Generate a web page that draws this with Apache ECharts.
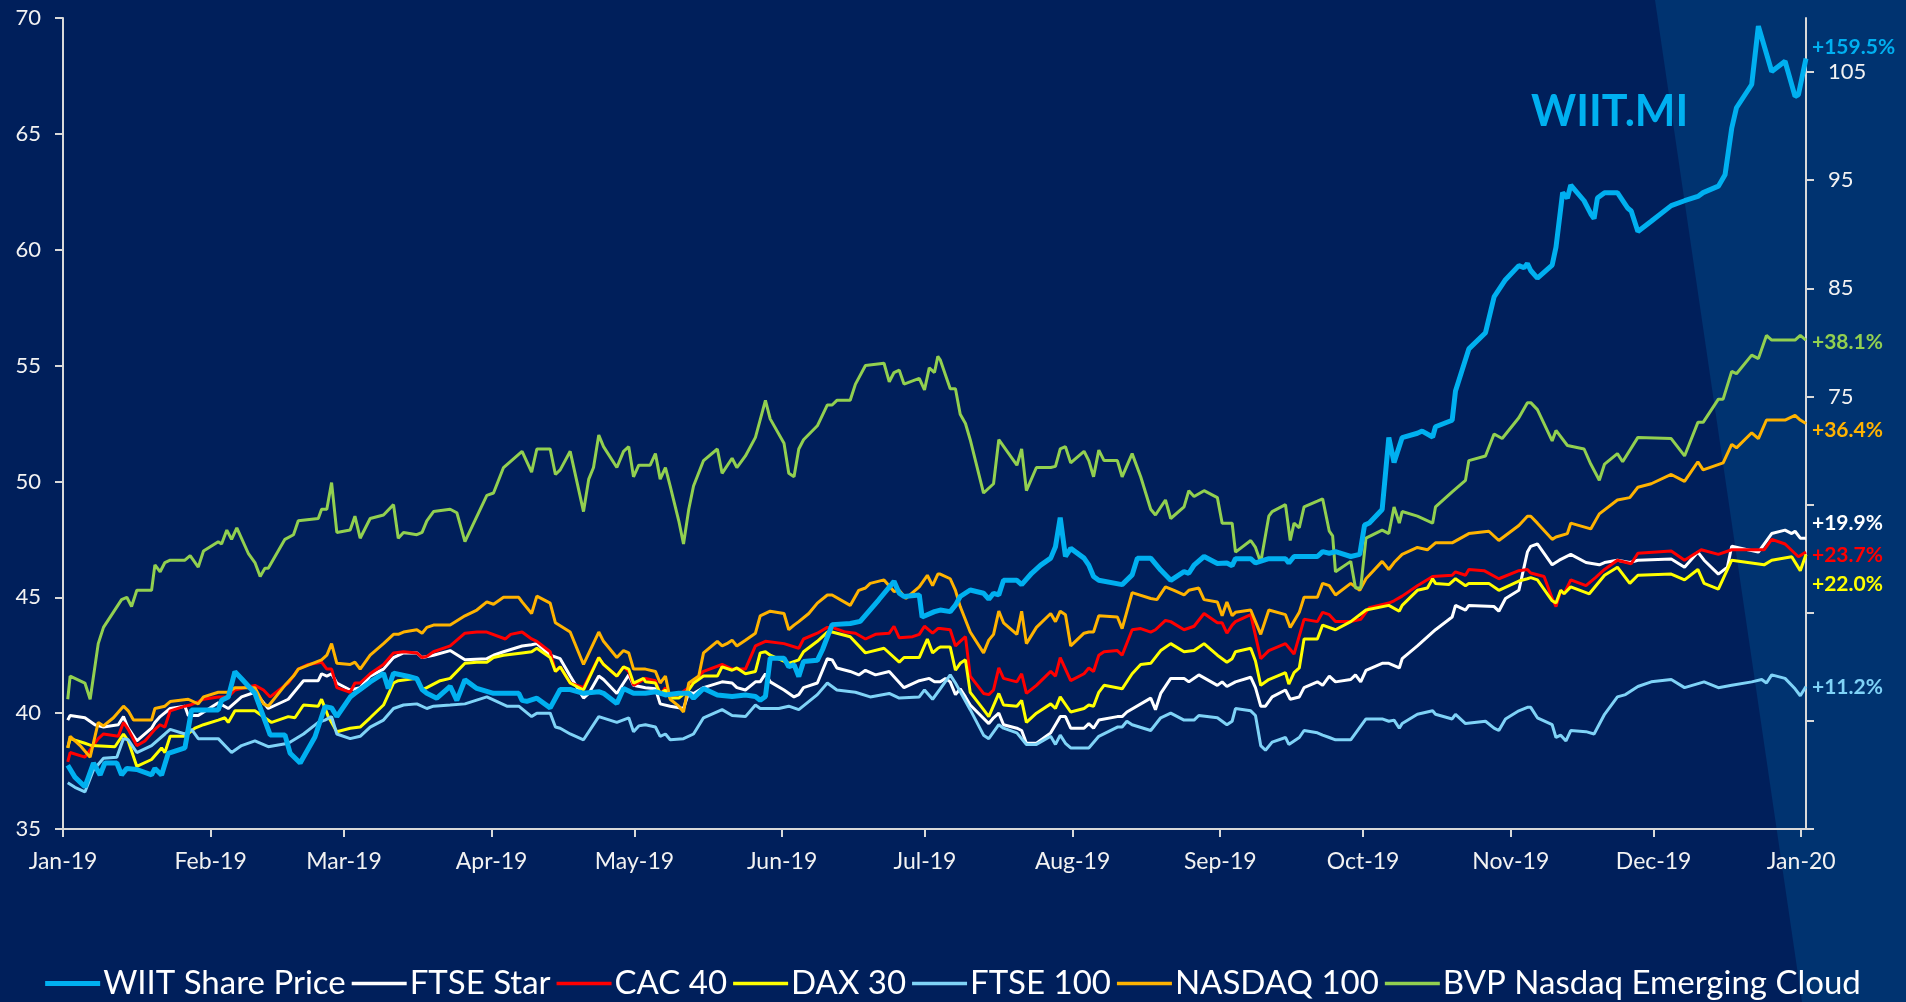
<!DOCTYPE html>
<html>
<head>
<meta charset="utf-8">
<title>WIIT.MI vs indices</title>
<script src="https://cdn.jsdelivr.net/npm/echarts@6/dist/echarts.min.js"></script>
<style>
  html, body { margin: 0; padding: 0; background: #001f5b; }
  #chart { width: 1906px; height: 1002px; }
</style>
</head>
<body>
<div id="chart"></div>
<script>
// ---- data (day of 2019, value) ----
const monthStarts = [0, 31, 59, 90, 120, 151, 181, 212, 243, 273, 304, 334, 365];
const monthLabels = ["Jan-19", "Feb-19", "Mar-19", "Apr-19", "May-19", "Jun-19", "Jul-19",
  "Aug-19", "Sep-19", "Oct-19", "Nov-19", "Dec-19", "Jan-20"];
const rightTicks = [35, 45, 55, 65, 75, 85, 95, 105];
const rightLabels = [75, 85, 95, 105];

const seriesNames = ["WIIT Share Price", "FTSE Star", "CAC 40", "DAX 30", "FTSE 100", "NASDAQ 100", "BVP Nasdaq Emerging Cloud"];
const endChanges = ["+159.5%", "+19.9%", "+23.7%", "+22.0%", "+11.2%", "+36.4%", "+38.1%"];

const wiit = [[1,40.9],[2.5,39.8],[4.6,38.9],[6.4,41.1],[7.8,40.0],[8.8,41.1],[11.3,41.1],[12.3,40.0],[13.4,40.6],[15.5,40.5],[18.6,40.0],[19.3,40.6],[20.7,40.0],[22.1,42.0],[25.6,42.5],[27.0,46.0],[29.1,46.0],[32.6,46.0],[33.3,46.9],[34.7,47.2],[36.1,49.55],[37.5,48.9],[40.3,47.55],[43.5,43.7],[46.6,43.7],[47.7,42.0],[49.8,41.1],[52.9,43.5],[55.0,46.3],[56.4,46.2],[57.5,45.4],
  [60.3,47.2],[61.3,47.55],[62.4,47.9],[64.5,48.6],[67.3,49.4],[68.3,48.0],[69.4,49.4],[72.6,49.1],[74.3,48.9],[75.4,47.9],[76.4,47.55],[78.5,47.1],[81.3,48.2],[82.7,46.9],[84.4,48.8],[86.9,48.0],[90.4,47.55],[95.7,47.55],[96.4,46.9],[97.4,46.8],[99.5,47.1],[102.3,46.2],[104.4,47.9],[106.5,47.9],[109.3,47.55],[112.5,47.7],[113.5,47.55],[116.3,46.6],[117.7,48.0],[119.8,47.55],
  [122.3,47.55],[124.4,47.7],[126.5,47.4],[129.3,47.55],[131.4,47.55],[132.4,47.1],[134.5,48.0],[137.4,47.4],[140.5,47.25],[143.3,47.4],[145.4,47.25],[146.4,46.9],[147.5,47.25],[148.5,50.8],[151.4,50.8],[152.4,50.0],[153.5,50.2],[154.5,49.1],[155.5,50.5],[158.4,50.6],[159.5,51.6],[161.5,53.9],[165.3,54.0],[167.4,54.2],[171.3,56.2],[174.5,57.9],[175.6,56.8],[176.6,56.5],[179.8,56.65],[180.4,54.6],[183.0,55.1],
  [184.2,55.25],[186.3,55.1],[187.4,55.7],[188.4,56.5],[190.5,57.1],[193.3,56.8],[194.4,56.25],[195.4,56.8],[196.5,56.65],[197.5,58.0],[200.3,58.0],[201.3,57.6],[203.4,58.65],[205.3,59.4],[207.4,60.05],[208.4,61.1],[209.4,63.8],[210.5,60.2],[211.6,60.95],[214.4,60.05],[215.4,59.4],[216.4,58.35],[217.5,58.0],[222.4,57.6],[224.5,58.5],[225.6,60.05],[228.4,60.05],[230.5,58.95],[232.6,58.0],[235.4,58.8],[236.4,58.65],[237.5,59.4],[239.6,60.2],[242.4,59.55],[244.4,59.6],[245.5,59.35],
  [246.2,60.0],[249.4,60.0],[250.4,59.6],[253.2,60.0],[256.7,60.0],[257.4,59.6],[258.5,60.2],[260.6,60.2],[263.4,60.2],[264.5,60.65],[265.9,60.5],[267.2,60.65],[270.4,60.2],[272.3,60.4],[273.3,63.1],[274.3,63.3],[277.0,64.55],[278.4,71.2],[279.5,68.9],[281.2,71.2],[284.4,71.6],[285.4,71.8],[287.6,71.25],[288.2,72.2],[291.7,72.8],[292.4,75.5],[295.2,79.4],[298.7,80.9],[300.5,84.2],[302.9,85.8],[305.7,87.1],[306.8,86.9],[307.5,87.3],
  [308.2,86.65],[309.6,85.95],[312.7,87.15],[313.5,88.8],[314.9,93.85],[315.9,93.35],[316.6,94.55],[319.4,93.1],[320.8,91.9],[321.5,91.45],[322.2,93.35],[323.7,93.85],[326.4,93.85],[328.6,92.4],[329.3,92.15],[330.7,90.25],[333.5,91.2],[337.7,92.65],[340.5,93.1],[343.3,93.5],[344.4,93.85],[347.6,94.45],[349.0,95.5],[350.4,99.8],[351.4,101.7],[354.6,103.85],[356.0,109.25],[358.8,105.05],[361.6,106.0],[363.7,102.75],[364.4,102.9],[366.0,106.25]];

const ftseStar = [[1,39.7],[1.5,39.9],[4.6,39.8],[6.7,39.5],[8.5,39.4],[11.6,39.5],[12.7,39.85],[13.7,39.35],[15.5,38.8],[18.6,39.35],[19.3,39.6],[20.4,39.85],[22.5,40.2],[25.6,40.3],[26.3,39.9],[28.4,39.9],[32.6,40.45],[34.7,40.2],[37.5,40.7],[40.3,40.9],[43.1,40.2],[47.3,40.6],[50.5,41.4],[53.6,41.4],[54.3,41.7],[55.4,41.6],[56.4,41.7],[57.5,41.3],
  [60.3,41.0],[62.4,41.1],[64.5,41.6],[67.3,41.9],[69.4,42.4],[71.5,42.6],[74.3,42.6],[75.4,42.4],[77.8,42.5],[81.3,42.7],[84.4,42.3],[89.0,42.35],[90.4,42.5],[92.5,42.65],[96.4,42.9],[98.4,42.95],[99.5,43.0],[102.3,42.5],[104.4,42.35],[106.5,41.6],[109.3,40.65],[110.4,40.85],[112.5,41.6],[113.5,41.45],[116.3,40.85],[117.7,41.3],[118.8,41.65],[119.8,41.2],
  [122.3,41.1],[124.4,41.05],[125.4,40.4],[127.5,40.3],[130.3,40.2],[131.4,40.9],[132.4,40.85],[134.5,41.1],[138.4,41.35],[140.5,41.3],[141.5,41.1],[143.3,41.0],[145.4,41.35],[146.4,41.35],[147.5,41.7],[148.5,41.35],[151.4,41.0],[153.5,40.7],[154.5,40.8],[155.5,41.1],[158.4,41.3],[160.5,42.35],[161.5,42.3],[162.5,41.95],[165.3,41.8],[167.1,41.65],[168.5,41.85],[170.6,41.65],[173.5,41.8],[176.6,41.1],[179.8,41.4],[181.9,41.5],[183.0,41.35],
  [184.2,41.35],[185.3,41.5],[186.3,41.35],[187.4,40.8],[188.4,41.05],[189.5,40.7],[190.5,40.35],[194.4,39.55],[195.4,39.8],[196.5,40.0],[197.5,39.5],[200.3,39.35],[201.3,39.25],[202.3,38.7],[204.4,38.7],[207.4,39.15],[208.4,39.5],[209.4,39.85],[210.5,39.85],[211.6,39.35],[214.4,39.35],[215.4,39.55],[216.4,39.35],[217.5,39.7],[221.4,39.85],[222.4,39.85],[223.4,40.05],[228.4,40.65],[229.4,40.15],[230.5,40.85],[232.6,41.5],[235.4,41.5],[236.4,41.35],[238.5,41.65],[242.4,41.2],[243.4,41.35],[244.4,41.15],
  [246.2,41.35],[249.4,41.55],[250.4,41.1],[251.5,40.3],[252.5,40.3],[253.9,40.7],[256.7,41.0],[257.7,40.6],[259.6,40.7],[260.6,41.1],[263.4,41.35],[264.5,41.2],[265.9,41.6],[267.2,41.35],[270.4,41.45],[271.4,41.65],[272.5,41.35],[273.6,41.85],[277.0,42.15],[278.4,42.15],[280.6,41.95],[281.2,42.35],[284.4,42.9],[288.2,43.6],[291.7,44.15],[292.4,44.65],[294.5,44.45],[295.2,44.65],[300.5,44.6],[301.5,44.4],[302.9,44.95],[305.7,45.3],[307.5,46.95],
  [308.2,47.2],[309.6,47.3],[312.7,46.4],[314.2,46.6],[316.6,46.85],[319.8,46.5],[322.6,46.4],[323.7,46.5],[326.4,46.6],[329.0,46.5],[330.7,46.6],[337.7,46.65],[340.5,46.3],[343.3,46.95],[344.6,46.6],[347.6,46.0],[349.5,46.3],[350.4,47.2],[356.0,46.95],[358.8,47.75],[361.6,47.9],[363.0,47.75],[363.7,47.85],[364.8,47.55],[366.0,47.55]];

const cac40 = [[1,37.9],[1.5,38.3],[4.6,38.1],[7.4,38.9],[8.5,39.1],[11.6,39.0],[12.7,39.6],[13.7,39.3],[15.5,38.6],[17.2,38.8],[19.3,39.3],[20.4,39.5],[21.4,39.4],[22.5,40.1],[25.6,40.3],[26.7,40.35],[28.4,40.5],[29.5,40.6],[32.6,40.7],[34.7,40.7],[36.1,41.0],[40.3,41.2],[42.1,41.0],[43.5,40.7],[47.3,41.3],[49.4,41.9],[51.5,42.1],[54.3,42.2],[55.4,41.9],[56.4,41.9],[57.5,41.1],
  [60.3,40.9],[61.3,41.3],[62.4,41.3],[64.5,41.7],[67.3,42.1],[69.4,42.6],[71.5,42.65],[74.3,42.6],[75.4,42.4],[76.4,42.45],[77.8,42.65],[81.3,42.9],[84.4,43.45],[86.9,43.5],[89.0,43.5],[92.9,43.2],[94.0,43.4],[96.4,43.5],[98.4,43.2],[99.5,43.1],[102.3,42.65],[103.4,41.8],[104.4,42.0],[106.5,41.3],[109.3,41.1],[112.5,42.4],[113.5,42.1],[116.3,41.6],[117.7,42.0],[118.8,41.8],[119.8,41.2],
  [122.3,41.5],[124.4,41.4],[125.4,40.8],[126.5,41.1],[127.5,40.7],[129.3,40.8],[131.4,41.1],[133.5,41.6],[134.5,41.8],[138.4,42.1],[140.5,41.9],[143.3,41.9],[145.4,42.9],[147.5,43.1],[151.4,43.0],[154.5,42.8],[155.5,43.2],[158.4,43.45],[160.5,43.7],[161.5,43.7],[164.3,43.5],[166.4,43.45],[168.5,43.2],[170.6,43.4],[173.5,43.45],[174.5,43.75],[175.6,43.25],[178.4,43.3],[179.8,43.4],[180.9,43.75],[182.6,43.45],[183.7,43.65],
  [184.2,43.65],[186.3,43.6],[187.4,42.9],[188.4,43.1],[189.5,43.3],[190.5,41.6],[193.3,40.85],[194.4,40.8],[195.4,41.0],[196.5,41.95],[197.5,41.5],[200.3,41.35],[201.3,41.7],[202.3,40.85],[204.4,41.2],[207.4,41.8],[208.4,41.6],[209.4,42.4],[211.6,41.4],[214.4,41.7],[215.4,41.95],[216.4,41.8],[217.5,42.5],[218.6,42.65],[221.4,42.7],[222.4,42.5],[224.5,43.6],[226.3,43.65],[228.4,43.5],[229.4,43.6],[231.5,44.0],[232.6,43.95],[235.4,43.6],[237.5,43.75],[239.6,44.3],[242.4,43.9],[243.4,43.9],[244.4,43.45],[245.5,43.8],
  [246.2,43.95],[249.4,44.25],[251.5,42.35],[253.2,42.7],[256.7,43.0],[258.5,42.55],[260.6,44.05],[263.4,43.95],[264.5,44.35],[265.9,44.25],[267.2,43.95],[270.4,43.95],[272.5,44.05],[274.3,44.55],[278.4,44.75],[279.5,44.85],[281.2,45.05],[284.4,45.5],[287.6,45.9],[291.7,45.95],[292.4,46.1],[294.5,45.95],[295.2,46.2],[298.4,46.15],[301.5,45.8],[305.7,46.15],[307.5,46.2],
  [308.2,46.05],[311.0,45.9],[312.7,44.95],[313.5,44.6],[314.5,45.3],[315.2,45.15],[316.6,45.75],[319.8,45.5],[321.8,45.85],[323.7,46.2],[326.4,46.6],[329.3,46.45],[330.7,46.9],[337.7,47.0],[340.5,46.6],[344.0,47.05],[347.6,46.85],[350.4,47.05],[357.2,47.05],[358.8,47.5],[361.6,47.3],[364.4,46.75],[366.0,46.95]];

const dax30 = [[1,38.5],[1.5,38.9],[4.6,38.7],[6.0,38.6],[10.9,38.55],[12.7,39.1],[13.7,38.8],[15.5,37.7],[18.6,38.0],[20.7,38.5],[21.4,38.3],[22.5,39.0],[25.6,39.0],[27.7,39.35],[29.5,39.5],[32.6,39.7],[34.0,39.8],[34.7,39.6],[36.1,40.1],[40.3,40.1],[43.8,39.6],[47.3,39.85],[48.7,39.8],[50.5,40.35],[53.6,40.3],[54.3,40.6],[55.7,39.85],[57.5,39.2],
  [60.3,39.35],[62.4,39.4],[64.5,39.8],[67.3,40.35],[69.4,41.3],[70.4,41.4],[74.3,41.5],[75.4,41.0],[76.4,41.1],[79.2,41.4],[81.3,41.5],[84.4,42.15],[86.9,42.2],[89.0,42.2],[90.4,42.4],[92.5,42.5],[96.4,42.6],[98.4,42.65],[99.5,42.8],[102.3,42.4],[103.4,41.8],[104.4,42.0],[106.5,41.3],[109.3,41.0],[112.5,42.4],[113.5,42.1],[116.3,41.6],[117.7,42.0],[118.8,41.9],[119.8,41.3],[121.9,41.5],
  [122.3,41.35],[124.4,41.3],[125.4,40.85],[126.5,41.0],[127.5,40.65],[129.3,40.65],[131.4,41.0],[132.4,41.3],[134.5,41.6],[137.4,41.6],[138.4,42.0],[140.5,41.85],[141.5,41.95],[143.3,41.7],[145.4,41.8],[146.4,42.6],[147.5,42.65],[148.5,42.5],[152.4,42.15],[154.5,42.3],[155.5,42.65],[158.4,43.1],[160.5,43.5],[161.5,43.5],[165.3,43.3],[168.5,42.6],[172.4,42.8],[175.6,42.2],[176.6,42.4],[179.8,42.4],[181.5,43.2],[182.6,42.6],[183.7,42.8],
  [184.2,42.85],[186.3,42.85],[187.4,41.85],[188.4,42.15],[189.5,42.3],[190.5,40.9],[193.3,40.15],[194.4,39.85],[196.5,40.85],[197.5,40.35],[200.3,40.3],[201.3,40.55],[202.3,39.6],[204.4,40.0],[207.4,40.4],[208.4,40.2],[209.4,40.7],[211.6,40.05],[214.4,40.2],[215.4,40.35],[216.4,40.3],[217.5,40.9],[218.6,41.2],[222.4,41.05],[224.5,41.7],[226.3,42.1],[228.4,42.15],[230.5,42.7],[232.6,43.0],[235.4,42.65],[237.5,42.7],[239.6,43.0],[242.4,42.5],[244.4,42.2],[245.5,42.35],
  [246.2,42.65],[249.4,42.8],[250.4,42.25],[251.5,41.2],[253.2,41.45],[256.7,41.75],[257.4,41.25],[258.5,41.75],[259.6,41.95],[260.6,43.2],[263.4,43.2],[264.5,43.8],[267.2,43.6],[270.4,43.95],[273.6,44.45],[278.4,44.65],[280.6,44.4],[281.2,44.65],[284.4,45.3],[286.5,45.4],[287.6,45.8],[288.2,45.6],[291.0,45.55],[292.4,45.8],[294.5,45.5],[295.2,45.6],[299.4,45.6],[301.5,45.3],[305.7,45.7],[307.5,45.8],
  [308.2,45.85],[309.6,45.75],[312.7,44.85],[313.5,44.75],[314.5,45.3],[315.2,45.15],[316.6,45.45],[320.5,45.15],[323.7,45.95],[326.4,46.3],[329.0,45.6],[330.7,45.95],[337.7,46.0],[340.5,45.75],[343.3,46.2],[344.6,45.6],[347.6,45.35],[350.4,46.6],[357.2,46.4],[358.8,46.6],[363.0,46.75],[364.8,46.15],[366.0,46.85]];

const ftse100 = [[1,37.0],[2.5,36.8],[4.6,36.6],[6.4,37.55],[8.5,38.05],[11.3,38.1],[12.7,38.9],[13.7,38.85],[15.5,38.3],[18.6,38.6],[21.4,39.1],[22.5,39.3],[25.6,39.1],[27.0,39.3],[28.4,38.9],[32.6,38.9],[35.4,38.3],[37.5,38.6],[40.3,38.8],[43.1,38.55],[47.3,38.7],[50.5,39.1],[53.6,39.6],[55.0,39.7],[56.4,39.85],[57.5,39.1],
  [60.3,38.9],[62.4,39.0],[64.5,39.4],[67.3,39.7],[69.4,40.2],[71.5,40.35],[74.3,40.4],[76.4,40.2],[77.8,40.3],[81.3,40.35],[84.4,40.4],[89.0,40.7],[93.2,40.3],[95.7,40.3],[98.4,39.85],[99.5,40.0],[102.3,40.0],[103.4,39.4],[104.4,39.35],[106.5,39.1],[109.3,38.85],[112.5,39.85],[116.3,39.6],[118.8,39.8],[119.8,39.2],[120.9,39.45],
  [122.3,39.5],[124.4,39.4],[125.4,39.0],[126.5,39.1],[127.5,38.85],[130.3,38.9],[132.4,39.1],[134.5,39.8],[138.4,40.15],[140.5,39.9],[143.3,39.85],[145.4,40.35],[146.4,40.2],[150.3,40.2],[152.4,40.3],[154.5,40.15],[158.4,40.8],[160.5,41.3],[161.5,41.15],[162.5,41.0],[166.4,40.9],[169.5,40.7],[173.5,40.85],[175.6,40.65],[179.8,40.7],[180.9,41.0],[182.6,40.6],
  [184.2,41.05],[186.3,41.65],[187.4,41.3],[190.5,40.15],[193.3,39.05],[194.4,38.9],[196.5,39.5],[197.5,39.35],[200.3,39.15],[202.3,38.65],[204.4,38.65],[207.4,39.0],[208.4,38.65],[209.4,39.05],[210.5,38.7],[211.6,38.5],[215.4,38.5],[217.5,39.0],[221.4,39.4],[222.4,39.4],[223.4,39.65],[224.5,39.5],[228.4,39.25],[230.5,39.8],[232.6,40.0],[235.4,39.7],[237.5,39.7],[238.5,39.9],[242.4,39.8],[244.4,39.5],[245.5,39.65],
  [246.2,40.2],[249.4,40.1],[250.4,39.9],[251.5,38.6],[252.5,38.4],[253.9,38.75],[256.7,38.95],[257.4,38.65],[259.6,38.95],[260.6,39.25],[263.4,39.15],[264.5,39.05],[265.9,38.95],[267.2,38.85],[270.4,38.85],[273.6,39.75],[277.0,39.75],[278.4,39.65],[279.5,39.7],[280.6,39.35],[281.2,39.55],[284.4,39.95],[287.6,40.1],[288.2,39.95],[291.7,39.75],[292.4,39.95],[294.5,39.55],[298.7,39.65],[300.5,39.35],[301.5,39.25],[302.9,39.75],[305.7,40.1],[307.5,40.25],
  [308.2,40.25],[309.6,39.8],[312.7,39.5],[313.5,38.95],[314.5,39.05],[315.6,38.8],[316.6,39.25],[319.8,39.2],[321.5,39.1],[323.7,39.95],[326.4,40.7],[328.1,40.8],[330.7,41.15],[333.5,41.35],[337.7,41.45],[340.5,41.1],[344.6,41.35],[347.6,41.1],[350.4,41.2],[354.6,41.35],[356.7,41.45],[357.7,41.3],[358.8,41.65],[361.6,41.5],[363.7,41.05],[364.8,40.75],[366.0,41.15]];

const nasdaq100 = [[1,38.5],[1.5,39.0],[3.6,38.6],[5.7,38.1],[7.4,39.6],[8.5,39.45],[10.6,39.8],[12.7,40.3],[13.7,40.1],[14.8,39.7],[18.6,39.7],[19.3,40.2],[21.4,40.3],[22.5,40.5],[26.3,40.6],[28.4,40.4],[29.5,40.7],[32.6,40.9],[34.7,40.9],[36.1,41.1],[40.3,41.1],[42.1,40.4],[43.1,40.3],[46.6,41.2],[48.4,41.6],[49.4,41.9],[54.3,42.3],[55.4,42.5],[56.4,43.0],[57.5,42.15],
  [60.3,42.1],[61.3,42.2],[62.4,41.9],[64.5,42.5],[67.3,43.0],[69.4,43.4],[70.4,43.4],[71.5,43.5],[74.3,43.6],[75.4,43.45],[76.4,43.7],[77.8,43.8],[81.3,43.8],[84.4,44.2],[86.9,44.45],[89.0,44.8],[90.4,44.7],[92.5,45.0],[95.7,45.0],[96.4,44.8],[98.4,44.3],[99.5,45.05],[102.3,44.75],[103.4,43.9],[106.5,43.5],[109.3,42.1],[112.5,43.5],[113.5,43.1],[116.3,42.4],[117.7,42.7],[118.8,42.6],[119.8,41.9],
  [122.3,41.9],[124.4,41.8],[125.4,41.3],[126.5,41.6],[127.5,40.6],[129.3,40.3],[130.3,40.05],[131.4,41.3],[133.5,41.6],[134.5,42.6],[137.4,43.1],[138.4,42.9],[139.4,43.0],[140.5,43.15],[141.5,42.9],[143.3,43.15],[145.4,43.45],[146.4,44.2],[148.5,44.4],[151.4,44.3],[152.4,43.6],[153.5,43.8],[154.5,43.95],[156.6,44.3],[158.4,44.75],[160.5,45.1],[161.5,45.1],[165.3,44.65],[167.1,45.3],[168.5,45.4],[169.5,45.6],[172.4,45.75],[174.5,45.25],[175.6,45.3],[177.0,44.95],[179.8,45.45],[181.5,45.95],[182.6,45.5],[183.7,46.0],
  [184.2,46.0],[186.3,45.8],[187.4,45.3],[188.4,44.6],[190.5,43.5],[193.3,42.6],[194.4,43.15],[195.4,43.4],[196.5,44.4],[197.5,43.9],[200.3,43.4],[201.3,44.4],[202.3,43.0],[204.4,43.7],[207.4,44.3],[208.4,43.95],[209.4,44.4],[210.5,44.25],[211.6,42.9],[214.4,43.45],[215.4,43.5],[216.4,43.5],[217.5,44.2],[221.4,44.15],[222.4,43.65],[224.5,45.2],[228.4,44.95],[229.7,44.9],[231.5,45.45],[233.3,45.3],[235.4,45.1],[236.4,45.3],[238.5,45.4],[239.6,44.9],[242.4,44.8],[243.4,44.2],[244.4,44.8],[245.5,44.2],
  [246.2,44.35],[249.4,44.45],[251.5,43.4],[253.2,44.45],[256.7,44.25],[257.7,43.7],[259.6,44.35],[260.6,45.0],[263.4,45.0],[264.5,45.6],[265.9,45.5],[267.2,45.1],[270.4,45.6],[272.3,45.3],[273.6,45.8],[277.0,46.55],[278.4,46.2],[279.5,46.5],[281.2,46.85],[284.4,47.15],[286.5,47.05],[288.2,47.35],[291.7,47.35],[295.2,47.75],[299.4,47.85],[301.5,47.45],[305.7,48.1],[307.5,48.5],
  [308.2,48.5],[309.6,48.2],[312.7,47.5],[313.5,47.6],[315.9,47.75],[316.6,48.2],[320.8,47.95],[322.6,48.6],[326.4,49.2],[329.0,49.3],[330.7,49.75],[333.5,49.9],[337.7,50.3],[340.5,50.0],[343.3,50.85],[344.4,50.5],[348.6,50.8],[350.4,51.6],[351.4,51.45],[354.6,52.1],[356.0,51.85],[357.7,52.65],[361.6,52.65],[363.7,52.85],[364.8,52.65],[366.0,52.5]];

const bvpCloud = [[1,40.6],[1.5,41.6],[4.6,41.3],[5.7,40.6],[7.4,43.0],[8.5,43.7],[12.3,44.9],[13.4,45.0],[14.4,44.6],[15.5,45.3],[18.6,45.3],[19.3,46.4],[20.4,46.1],[21.4,46.5],[22.5,46.6],[25.6,46.6],[26.7,46.8],[28.4,46.3],[29.5,47.0],[32.6,47.4],[33.3,47.3],[34.4,47.9],[35.4,47.5],[36.5,48.0],[38.9,46.9],[40.3,46.5],[41.4,45.9],[42.4,46.25],[43.1,46.25],[46.6,47.5],[48.4,47.7],[49.4,48.3],[53.6,48.4],[54.3,48.8],[55.4,48.8],[56.4,49.95],[57.5,47.8],
  [60.3,47.9],[61.3,48.5],[62.4,47.55],[64.5,48.4],[67.3,48.55],[69.4,49.0],[70.4,47.55],[71.5,47.8],[74.3,47.7],[75.4,47.8],[76.4,48.3],[77.8,48.7],[81.3,48.8],[82.7,48.65],[84.4,47.4],[89.0,49.4],[90.4,49.5],[92.5,50.6],[96.4,51.3],[98.4,50.4],[99.5,51.4],[102.3,51.4],[103.4,50.3],[104.4,50.5],[106.5,51.3],[109.3,48.7],[110.4,50.1],[111.4,50.6],[112.5,52.0],[113.5,51.5],[116.3,50.6],[117.7,51.3],[118.8,51.5],[119.8,50.2],[120.9,50.7],
  [122.3,50.7],[123.3,50.7],[124.4,51.2],[125.4,50.1],[126.5,50.6],[127.5,49.8],[129.3,48.3],[130.3,47.3],[131.4,48.8],[132.4,49.8],[134.5,50.9],[137.4,51.4],[138.4,50.35],[140.5,51.0],[141.5,50.6],[143.3,51.1],[145.4,51.9],[147.5,53.5],[148.5,52.7],[151.4,51.65],[152.4,50.35],[153.5,50.2],[154.5,51.4],[155.5,51.8],[158.4,52.4],[160.5,53.3],[161.5,53.3],[162.5,53.5],[165.3,53.5],[166.4,54.2],[168.5,55.0],[172.4,55.1],[173.5,54.3],[174.5,54.7],[175.6,54.8],[176.6,54.2],[179.8,54.45],[180.9,53.95],[181.9,54.9],[183.0,54.7],[183.7,55.4],
  [184.2,55.25],[186.3,54.0],[187.4,54.0],[188.4,52.9],[189.5,52.5],[190.5,51.8],[193.3,49.5],[195.4,49.9],[196.5,51.8],[200.3,50.7],[201.3,51.4],[202.3,49.6],[204.4,50.6],[207.4,50.6],[208.4,50.65],[209.4,51.4],[210.5,51.5],[211.6,50.8],[214.4,51.3],[215.4,50.9],[216.4,50.2],[217.5,51.35],[218.6,50.9],[221.4,50.9],[222.4,50.2],[224.5,51.2],[226.3,50.2],[228.4,48.8],[229.4,48.55],[231.5,49.2],[232.6,48.4],[235.4,48.9],[236.4,49.6],[237.5,49.35],[239.6,49.6],[242.4,49.3],[243.4,48.2],[245.5,48.2],
  [246.2,46.95],[249.4,47.45],[250.4,47.15],[251.5,46.5],[253.2,48.5],[253.9,48.7],[256.7,49.0],[257.7,47.45],[258.5,48.2],[259.6,48.0],[260.6,48.9],[263.4,49.15],[264.5,49.25],[265.9,47.85],[266.6,47.65],[267.2,46.1],[270.4,46.55],[271.4,45.4],[272.5,45.4],[273.6,47.55],[277.0,47.9],[278.4,47.75],[279.5,48.9],[280.6,48.2],[281.2,48.7],[284.4,48.5],[287.6,48.2],[288.2,48.9],[291.7,49.55],[294.5,50.05],[295.2,50.9],[298.7,51.1],[300.5,52.05],[302.2,51.85],[305.7,52.75],[307.5,53.4],
  [308.2,53.4],[309.6,53.1],[312.7,51.75],[313.5,52.2],[315.9,51.55],[319.4,51.4],[320.8,50.75],[322.6,50.05],[323.7,50.75],[326.4,51.2],[327.5,50.85],[330.7,51.9],[337.7,51.85],[340.5,51.1],[343.3,52.55],[344.4,52.55],[347.6,53.55],[348.6,53.55],[350.4,54.75],[351.4,54.65],[354.6,55.45],[356.0,55.3],[357.7,56.3],[358.8,56.1],[363.7,56.1],[364.8,56.3],[366.0,56.1]];

const seriesData = [wiit, ftseStar, cac40, dax30, ftse100, nasdaq100, bvpCloud];

// ---- styles ----
const colors = ["#00b0f0", "#ffffff", "#ff0000", "#ffff00", "#7fd3f7", "#ffb300", "#92d050"];
const widths = [5, 3, 3, 3, 3, 3, 3];
const labelShift = [-11, -15, 3, 30, 1, 7, 2]; // nudge end labels apart
const FONT = "Lato";

const chart = echarts.init(document.getElementById("chart"));

const series = seriesNames.map((name, i) => ({
  name: name,
  type: "line",
  yAxisIndex: i === 0 ? 1 : 0,
  data: seriesData[i],
  symbol: "none",
  z: i === 0 ? 10 : 3 + i,
  lineStyle: { color: colors[i], width: widths[i] },
  itemStyle: { color: colors[i] },
  endLabel: {
    show: true,
    formatter: endChanges[i],
    color: colors[i],
    fontFamily: FONT,
    fontWeight: "bold",
    fontSize: 21,
    distance: 6,
    offset: [0, labelShift[i]]
  }
}));

// plain bar icons in the legend, thicker for the share price
const legendData = seriesNames.map((name, i) => ({
  name: name,
  icon: i === 0 ? "path://M0,0H110V10H0Z" : "path://M0,0H110V7H0Z"
}));

const axisColor = "#d9d9d9";

const option = {
  backgroundColor: "#001f5b",
  animation: false,
  graphic: [{
    type: "polygon",
    z: -10,
    silent: true,
    shape: { points: [[1655, 0], [1906, 0], [1906, 1002], [1802, 1002]] },
    style: { fill: "#003370" }
  }],
  title: {
    text: "WIIT.MI",
    left: 1526,
    top: 86,
    textStyle: { color: "#00b0f0", fontFamily: FONT, fontWeight: "bold", fontSize: 43 }
  },
  legend: {
    data: legendData,
    left: "center",
    top: 962,
    itemWidth: 55,
    itemHeight: 14,
    itemGap: 6,
    textStyle: { color: "#ffffff", fontFamily: FONT, fontSize: 33, padding: [0, 0, 0, -2] }
  },
  grid: { left: 63, right: 100, top: 18, bottom: 173, containLabel: false },
  xAxis: {
    type: "value",
    min: 0,
    max: 366,
    axisLine: { lineStyle: { color: axisColor, width: 2 } },
    axisTick: { show: true, length: 8, lineStyle: { color: axisColor, width: 2 }, customValues: monthStarts },
    axisLabel: {
      customValues: monthStarts,
      formatter: v => monthLabels[monthStarts.indexOf(v)],
      color: "#f2f2f2", fontFamily: FONT, fontSize: 23, margin: 21
    },
    splitLine: { show: false }
  },
  yAxis: [
    {
      type: "value",
      min: 35,
      max: 70,
      interval: 5,
      position: "left",
      axisLine: { show: true, lineStyle: { color: axisColor, width: 2 } },
      axisTick: { show: true, length: 8, lineStyle: { color: axisColor, width: 2 } },
      axisLabel: { color: "#f2f2f2", fontFamily: FONT, fontSize: 22, margin: 22 },
      splitLine: { show: false }
    },
    {
      type: "value",
      min: 35,
      max: 110,
      interval: 10,
      position: "right",
      axisLine: { show: true, lineStyle: { color: axisColor, width: 2 } },
      axisTick: { show: true, length: 8, lineStyle: { color: axisColor, width: 2 }, customValues: rightTicks },
      axisLabel: { customValues: rightLabels, color: "#f2f2f2", fontFamily: FONT, fontSize: 22, margin: 22 },
      splitLine: { show: false }
    }
  ],
  series: series
};

chart.setOption(option);
window.addEventListener("resize", () => chart.resize());
</script>
</body>
</html>
